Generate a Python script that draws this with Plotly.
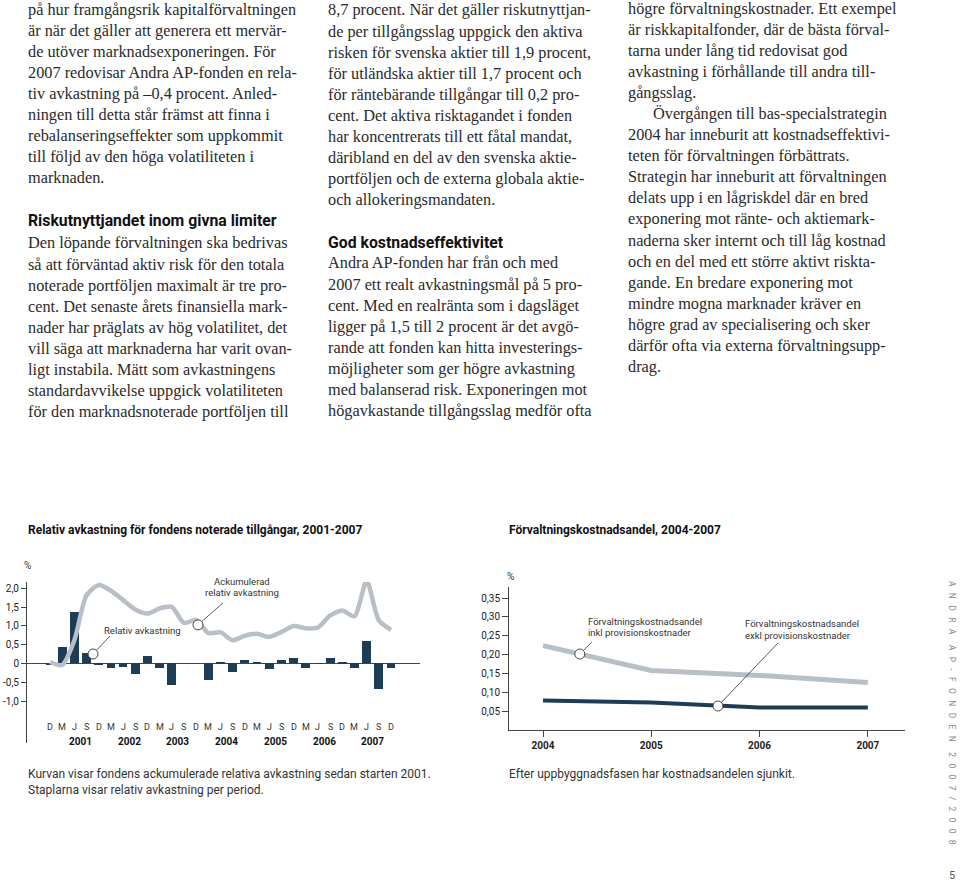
import plotly.graph_objects as go

W, H = 960, 882
def px(x): return x / W
def py(y): return 1 - y / H

SERIF = "Liberation Serif"
SANS = "Roboto"
NAVY = "#1d3c55"
GREY = "#b9bfc6"
INK = "#333333"

# ---------------- data ----------------
periods = ["D", "M", "J", "S", "D", "M", "J", "S", "D", "M", "J", "S", "D", "M", "J",
           "S", "D", "M", "J", "S", "D", "M", "J", "S", "D", "M", "J", "S", "D"]
years = ["2001", "2002", "2003", "2004", "2005", "2006", "2007"]
relative = [-0.04, 0.44, 1.37, 0.28, -0.04, -0.12, -0.10, -0.27, 0.21, -0.13, -0.57, 0.0,
            0.0, -0.45, 0.03, -0.22, 0.08, 0.03, -0.15, 0.10, 0.14, -0.11, 0.01, 0.14,
            0.04, -0.12, 0.60, -0.67, -0.11]
cumulative = [0.04, -0.04, 0.62, 1.82, 2.09, 1.94, 1.69, 1.44, 1.33, 1.47, 1.51, 1.08,
              1.16, 0.81, 0.83, 0.62, 0.74, 0.79, 0.71, 0.84, 1.00, 0.94, 0.96, 1.28,
              1.41, 1.26, 2.20, 1.15, 0.90]
rel_ticks = [-1.0, -0.5, 0, 0.5, 1.0, 1.5, 2.0]
rel_ticktext = ["-1,0", "-0,5", "0", "0,5", "1,0", "1,5", "2,0"]

cost_years = [2004, 2005, 2006, 2007]
cost_incl = [0.224, 0.158, 0.145, 0.126]
cost_excl = [0.078, 0.073, 0.060, 0.060]
cost_ticks = [0.05, 0.10, 0.15, 0.20, 0.25, 0.30, 0.35]
cost_ticktext = ["0,05", "0,10", "0,15", "0,20", "0,25", "0,30", "0,35"]

col1a = ["på hur framgångsrik kapitalförvaltningen",
         "är när det gäller att generera ett mervär-",
         "de utöver marknadsexponeringen. För",
         "2007 redovisar Andra AP-fonden en rela-",
         "tiv avkastning på –0,4 procent. Anled-",
         "ningen till detta står främst att finna i",
         "rebalanseringseffekter som uppkommit",
         "till följd av den höga volatiliteten i",
         "marknaden."]
head1 = "Riskutnyttjandet inom givna limiter"
col1b = ["Den löpande förvaltningen ska bedrivas",
         "så att förväntad aktiv risk för den totala",
         "noterade portföljen maximalt är tre pro-",
         "cent. Det senaste årets finansiella mark-",
         "nader har präglats av hög volatilitet, det",
         "vill säga att marknaderna har varit ovan-",
         "ligt instabila. Mätt som avkastningens",
         "standardavvikelse uppgick volatiliteten",
         "för den marknadsnoterade portföljen till"]
col2a = ["8,7 procent. När det gäller riskutnyttjan-",
         "de per tillgångsslag uppgick den aktiva",
         "risken för svenska aktier till 1,9 procent,",
         "för utländska aktier till 1,7 procent och",
         "för räntebärande tillgångar till 0,2 pro-",
         "cent. Det aktiva risktagandet i fonden",
         "har koncentrerats till ett fåtal mandat,",
         "däribland en del av den svenska aktie-",
         "portföljen och de externa globala aktie-",
         "och allokeringsmandaten."]
head2 = "God kostnadseffektivitet"
col2b = ["Andra AP-fonden har från och med",
         "2007 ett realt avkastningsmål på 5 pro-",
         "cent. Med en realränta som i dagsläget",
         "ligger på 1,5 till 2 procent är det avgö-",
         "rande att fonden kan hitta investerings-",
         "möjligheter som ger högre avkastning",
         "med balanserad risk. Exponeringen mot",
         "högavkastande tillgångsslag medför ofta"]
col3 = ["högre förvaltningskostnader. Ett exempel",
        "är riskkapitalfonder, där de bästa förval-",
        "tarna under lång tid redovisat god",
        "avkastning i förhållande till andra till-",
        "gångsslag.",
        "Övergången till bas-specialstrategin",
        "2004 har inneburit att kostnadseffektivi-",
        "teten för förvaltningen förbättrats.",
        "Strategin har inneburit att förvaltningen",
        "delats upp i en lågriskdel där en bred",
        "exponering mot ränte- och aktiemark-",
        "naderna sker internt och till låg kostnad",
        "och en del med ett större aktivt riskta-",
        "gande. En bredare exponering mot",
        "mindre mogna marknader kräver en",
        "högre grad av specialisering och sker",
        "därför ofta via externa förvaltningsupp-",
        "drag."]

title_left = "Relativ avkastning för fondens noterade tillgångar, 2001-2007"
title_right = "Förvaltningskostnadsandel, 2004-2007"
caption_left = ["Kurvan visar fondens ackumulerade relativa avkastning sedan starten 2001.",
                "Staplarna visar relativ avkastning per period."]
caption_right = "Efter uppbyggnadsfasen har kostnadsandelen sjunkit."
side_words = ["ANDRA", "AP-FONDEN", "2007/2008"]
page_no = "5"

# ---------------- figure ----------------
fig = go.Figure()
idx = list(range(len(periods)))
fig.add_trace(go.Bar(x=idx, y=relative, marker=dict(color=NAVY, line=dict(width=0)),
                     width=0.72, xaxis="x", yaxis="y", showlegend=False))
fig.add_trace(go.Scatter(x=idx, y=cumulative, mode="lines",
                         line=dict(color=GREY, width=4.5, shape="spline", smoothing=0.7),
                         xaxis="x", yaxis="y", showlegend=False))
fig.add_trace(go.Scatter(x=cost_years, y=cost_incl, mode="lines",
                         line=dict(color=GREY, width=5), xaxis="x2", yaxis="y2",
                         showlegend=False))
fig.add_trace(go.Scatter(x=cost_years, y=cost_excl, mode="lines",
                         line=dict(color=NAVY, width=4), xaxis="x2", yaxis="y2",
                         showlegend=False))

ann = []
shapes = []

def text(x, y, s, size=16.3, color=INK, family=SERIF, bold=False, xanchor="left", **kw):
    if bold:
        s = "<b>" + s + "</b>"
    ann.append(dict(x=px(x), y=py(y), xref="paper", yref="paper", text=s, showarrow=False,
                    xanchor=xanchor, yanchor="middle",
                    font=dict(family=family, size=size, color=color), **kw))

LH = 21.1
BODY = "#2a2a2a"
for i, s in enumerate(col1a):
    text(26, 9 + i * LH, s, color=BODY)
text(26, 220, head1, size=15.8, color="#111111", family=SANS, bold=True)
for i, s in enumerate(col1b):
    text(26, 243 + i * LH, s, color=BODY)
for i, s in enumerate(col2a):
    text(326, 10 + i * LH, s, color=BODY)
text(326, 242, head2, size=15.8, color="#111111", family=SANS, bold=True)
for i, s in enumerate(col2b):
    text(326, 263 + i * LH, s, color=BODY)
for i, s in enumerate(col3):
    text(651 if s.startswith("Över") else 626, 8 + i * LH, s, color=BODY)

text(26, 530, title_left, size=12, color="#111111", family=SANS, bold=True)
text(507, 530, title_right, size=12, color="#111111", family=SANS, bold=True)
text(26, 774, caption_left[0], size=12, color=INK, family=SANS)
text(26, 790, caption_left[1], size=12, color=INK, family=SANS)
text(507, 774, caption_right, size=12, color=INK, family=SANS)
text(27, 565, "%", size=10, color=INK, family=SANS, xanchor="center")
text(510, 576, "%", size=10, color=INK, family=SANS, xanchor="center")

NB = "\u00a0"
side = (NB * 5).join((NB * 3).join(list(w)) for w in side_words)
ann.append(dict(x=px(952), y=py(713), xref="paper", yref="paper", text=side, showarrow=False,
                textangle=90, xanchor="center", yanchor="middle",
                font=dict(family=SANS, size=8.5, color="#8a8a8a")))
text(952, 875, page_no, size=11, color="#555555", family=SANS, xanchor="center")

# period and year labels of the left chart
for i, p in enumerate(periods):
    ann.append(dict(x=i, y=-1.69, xref="x", yref="y", text=p, showarrow=False,
                    xanchor="center", yanchor="middle",
                    font=dict(family=SANS, size=9, color=INK)))
jpos = [i + 0.5 for i, p in enumerate(periods) if p == "J"]
for xj, yr in zip(jpos, years):
    ann.append(dict(x=xj, y=-2.09, xref="x", yref="y", text="<b>" + yr + "</b>",
                    showarrow=False, xanchor="center", yanchor="middle",
                    font=dict(family=SANS, size=10, color="#111111")))

# callouts (anchor in data units, leader end and text offsets in pixels)
callouts = [
    dict(xr="x", yr="y", x=3.53, y=0.253, dx=17, dy=18,
         lines=[("Relativ avkastning", 9, 24)], anchor="left"),
    dict(xr="x", yr="y", x=12.15, y=1.03, dx=25, dy=22,
         lines=[("Ackumulerad", 44, 43), ("relativ avkastning", 44, 32)], anchor="center"),
    dict(xr="x2", yr="y2", x=2004.34, y=0.2017, dx=12, dy=12,
         lines=[("Förvaltningskostnadsandel", 6, 33), ("inkl provisionskostnader", 6, 22)],
         anchor="left"),
    dict(xr="x2", yr="y2", x=2005.616, y=0.0637, dx=60, dy=63,
         lines=[("Förvaltningskostnadsandel", 25, 83), ("exkl provisionskostnader", 25, 71)],
         anchor="left"),
]
for c in callouts:
    shapes.append(dict(type="line", xref=c["xr"], yref=c["yr"], xsizemode="pixel",
                       ysizemode="pixel", xanchor=c["x"], yanchor=c["y"],
                       x0=0, y0=0, x1=c["dx"], y1=c["dy"], line=dict(color=INK, width=0.8)))
    shapes.append(dict(type="circle", xref=c["xr"], yref=c["yr"], xsizemode="pixel",
                       ysizemode="pixel", xanchor=c["x"], yanchor=c["y"],
                       x0=-5, y0=-5, x1=5, y1=5, fillcolor="white",
                       line=dict(color=INK, width=0.9)))
    for s, ox, oy in c["lines"]:
        ann.append(dict(x=c["x"], y=c["y"], xref=c["xr"], yref=c["yr"], text=s,
                        showarrow=False, xshift=ox, yshift=oy, xanchor=c["anchor"],
                        yanchor="middle", font=dict(family=SANS, size=9.5, color=INK)))

axis_font = dict(family=SANS, size=10, color="#222222")
fig.update_layout(
    width=W, height=H, margin=dict(l=0, r=0, t=0, b=0),
    paper_bgcolor="white", plot_bgcolor="rgba(0,0,0,0)",
    bargap=0, showlegend=False,
    xaxis=dict(domain=[px(27), px(420)], range=[-1.89, 30.38], visible=False, fixedrange=True),
    yaxis=dict(domain=[py(743), py(582)], range=[-2.12, 2.173], showline=True,
               linecolor="#444444", linewidth=1, ticks="outside", ticklen=5,
               tickcolor="#444444", tickvals=rel_ticks, ticktext=rel_ticktext,
               tickfont=axis_font, showgrid=False, zeroline=True, zerolinecolor="#444444",
               zerolinewidth=1, anchor="x"),
    xaxis2=dict(domain=[px(509), px(905)], range=[2003.686, 2007.343], showline=True,
                linecolor="#444444", linewidth=1, ticks="outside", ticklen=6,
                tickcolor="#444444", tickvals=cost_years,
                ticktext=["<b>%d</b>" % y for y in cost_years], tickfont=axis_font,
                showgrid=False, zeroline=False, anchor="y2"),
    yaxis2=dict(domain=[py(730), py(587)], range=[0, 0.3796], showline=True,
                linecolor="#444444", linewidth=1, ticks="outside", ticklen=6,
                tickcolor="#444444", tickvals=cost_ticks, ticktext=cost_ticktext,
                tickfont=axis_font, showgrid=False, zeroline=False, anchor="x2"),
    annotations=ann, shapes=shapes,
)
fig.write_html("out.html", config={"displayModeBar": False},
               post_script="document.body.style.margin='0px';"
                           "document.documentElement.style.overflow='hidden';")
